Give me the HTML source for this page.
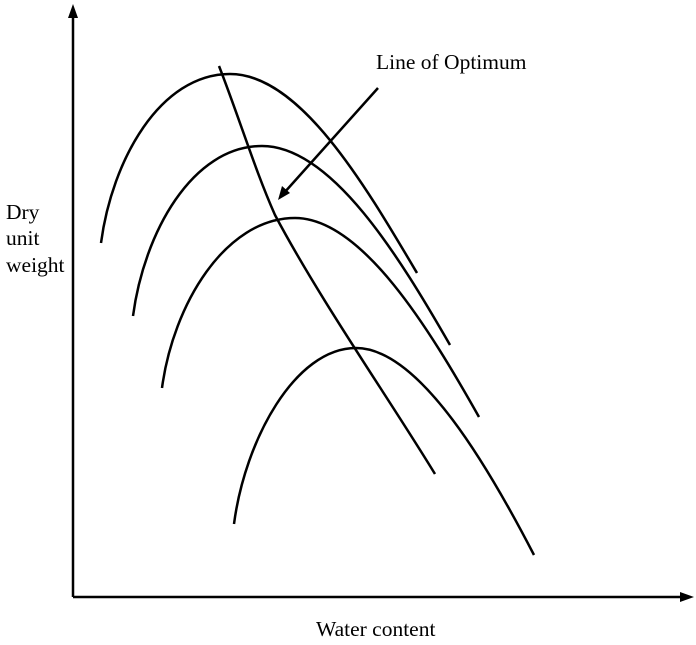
<!DOCTYPE html>
<html><head><style>
html,body{margin:0;padding:0;background:#fff;width:696px;height:645px;overflow:hidden}
text{font-family:"Liberation Serif",serif;fill:#000}
</style></head><body>
<svg width="696" height="645" viewBox="0 0 696 645" xmlns="http://www.w3.org/2000/svg">
<g stroke="#000" stroke-width="2.5" fill="none">
<line x1="73" y1="14" x2="73" y2="597"/>
<line x1="73" y1="597" x2="688" y2="597"/>
<path d="M101,243 C112,160 160,74 230,74 C300,74 365,185 417,273"/>
<path d="M133,316 C144,233 192,146 262,146 C332,146 400,258 450,345"/>
<path d="M162,388 C173,305 225,218 295,218 C362,218 430,330 479,417"/>
<path d="M234,524 C245,440 295,348 356,348 C420,348 490,470 534,555"/>
<path d="M219,66 C240,120 255,170 275,215 C320,300 390,400 435,474"/>
<line x1="378" y1="88" x2="284" y2="193"/>
</g>
<polygon points="73,4 68,18 78,18" fill="#000"/>
<polygon points="694,597 680,592 680,602" fill="#000"/>
<polygon points="278,200 282,186 290,193" fill="#000"/>
<text x="376" y="69" font-size="21.5">Line of Optimum</text>
<text x="6" y="219" font-size="21.5">Dry</text>
<text x="6" y="245" font-size="21.5">unit</text>
<text x="6" y="272" font-size="21.5">weight</text>
<text x="316" y="636" font-size="21.5">Water content</text>
</svg>
</body></html>
